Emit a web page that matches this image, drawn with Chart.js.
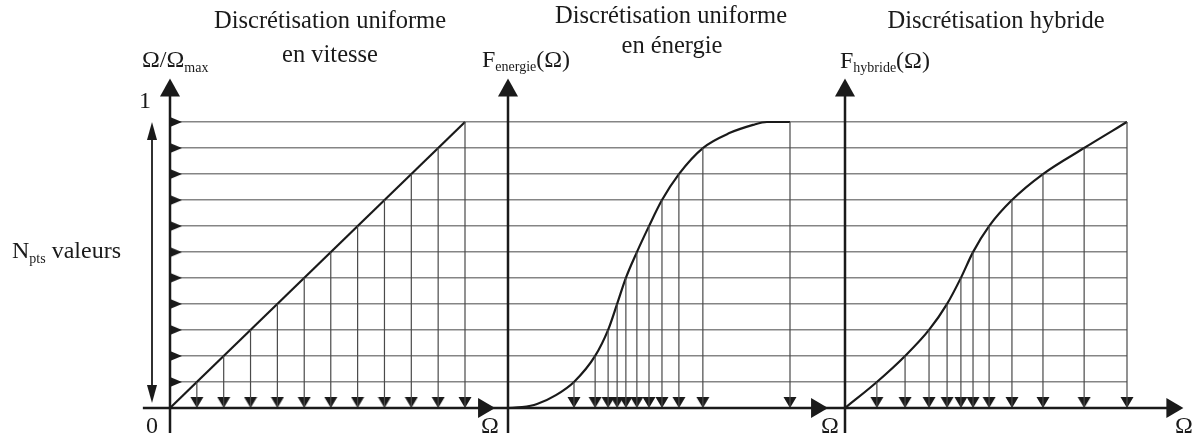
<!DOCTYPE html>
<html>
<head>
<meta charset="utf-8">
<script src="https://cdn.jsdelivr.net/npm/chart.js@4.4.1/dist/chart.umd.min.js"></script>
<style>
body { margin: 0; background: #fff; }
</style>
</head>
<body>
<canvas id="diagram" width="1203" height="441"></canvas>
<script>
// ordinate levels (N_pts = 11 values, 0 is the axis itself)
var levels = [0, 0.091, 0.182, 0.273, 0.364, 0.455, 0.545, 0.636, 0.727, 0.818, 0.909, 1.0];

// Omega of each discretisation point (one per level, normalised on each panel)
var vitesseX = [0.091, 0.182, 0.273, 0.364, 0.455, 0.545, 0.636, 0.727, 0.818, 0.909, 1.0];
var energieX = [0.234, 0.309, 0.355, 0.387, 0.418, 0.457, 0.500, 0.546, 0.606, 0.691, 1.0];
var hybrideX = [0.113, 0.213, 0.298, 0.362, 0.411, 0.454, 0.511, 0.592, 0.702, 0.848, 1.0];
var pointY   = [0.091, 0.182, 0.273, 0.364, 0.455, 0.545, 0.636, 0.727, 0.818, 0.909, 1.0];

// the three curves
var vitesseCurveX = [0, 1];
var vitesseCurveY = [0, 1];
var energieCurveX = [0, 0.05, 0.103, 0.17, 0.234, 0.309, 0.355, 0.387, 0.418, 0.457, 0.500, 0.546, 0.606, 0.691, 0.787, 0.869, 0.918, 1.0];
var energieCurveY = [0, 0.003, 0.014, 0.045, 0.091, 0.182, 0.273, 0.364, 0.455, 0.545, 0.636, 0.727, 0.818, 0.909, 0.962, 0.990, 1.0, 1.0];
var hybrideCurveX = [0, 0.113, 0.213, 0.298, 0.362, 0.411, 0.454, 0.511, 0.592, 0.702, 0.848, 1.0];
var hybrideCurveY = [0, 0.091, 0.182, 0.273, 0.364, 0.455, 0.545, 0.636, 0.727, 0.818, 0.909, 1.0];

// layout (px)
var PLOT = { left: 170, top: 122, right: 1127, bottom: 408 };
var PANEL_X = [[170, 465], [508, 790], [845, 1127]];   // pixel of Omega=0 and Omega=1 on each panel
var AXIS_X_START = -0.092;                             // on panel 1 scale
var AXIS_X_TIPS = [1.102, 1.135, 1.2];                 // arrow tips, each on its own panel scale
var AXIS_Y_TOP = 1.152, AXIS_Y_BOTTOM = -0.087;

var INK = '#1a1a1a';
var GRID = '#858585';
var DROP = '#4a4a4a';
var FONT = '"Liberation Serif", "DejaVu Serif", serif';

function headCanvas(w, h, pts) {
    var c = document.createElement('canvas');
    c.width = w; c.height = h;
    var g = c.getContext('2d');
    g.fillStyle = INK;
    g.beginPath();
    g.moveTo(pts[0], pts[1]);
    g.lineTo(pts[2], pts[3]);
    g.lineTo(pts[4], pts[5]);
    g.closePath();
    g.fill();
    return c;
}
// tip of the drop arrow sits at the centre of the image
var dropHead = headCanvas(14, 24, [0.5, 1, 13.5, 1, 7, 12]);
// level marker: base on the axis (centre), pointing right
var levelMark = headCanvas(28, 12, [14, 1, 26, 6, 14, 11]);

function xy(xs, ys) {
    return xs.map(function (x, i) { return { x: x, y: ys[i] }; });
}
function dropSegments(xs, ys) {
    var out = [];
    xs.forEach(function (x, i) {
        out.push({ x: x, y: ys[i] }, { x: x, y: 0 }, { x: x, y: null });
    });
    return out;
}
function panelScale(p) {
    var u = p[1] - p[0];
    return { type: 'linear', display: false, min: (PLOT.left - p[0]) / u, max: (PLOT.right - p[0]) / u };
}

var datasets = [];
var panels = [
    { axis: 'x1', cx: vitesseCurveX, cy: vitesseCurveY, px: vitesseX, mono: false },
    { axis: 'x2', cx: energieCurveX, cy: energieCurveY, px: energieX, mono: true },
    { axis: 'x3', cx: hybrideCurveX, cy: hybrideCurveY, px: hybrideX, mono: true }
];
panels.forEach(function (p) {
    datasets.push({
        xAxisID: p.axis,
        data: dropSegments(p.px, pointY),
        borderColor: DROP,
        borderWidth: 1.2,
        pointRadius: 0,
        spanGaps: false,
        clip: false
    });
    datasets.push({
        xAxisID: p.axis,
        data: xy(p.cx, p.cy),
        borderColor: INK,
        borderWidth: 2.2,
        pointRadius: 0,
        cubicInterpolationMode: p.mono ? 'monotone' : 'default',
        clip: false
    });
    datasets.push({
        xAxisID: p.axis,
        data: p.px.map(function (x) { return { x: x, y: 0 }; }),
        showLine: false,
        pointStyle: dropHead,
        pointRadius: 6,
        clip: false
    });
});
// markers of the N_pts levels on the first ordinate axis
datasets.push({
    xAxisID: 'x1',
    data: pointY.map(function (v) { return { x: 0, y: v }; }),
    showLine: false,
    pointStyle: levelMark,
    pointRadius: 6,
    clip: false
});

function richText(ctx, x, y, parts, align) {
    var w = 0;
    parts.forEach(function (p) { ctx.font = p[1] + 'px ' + FONT; w += ctx.measureText(p[0]).width; });
    var cx = align === 'center' ? x - w / 2 : x;
    parts.forEach(function (p) {
        ctx.font = p[1] + 'px ' + FONT;
        ctx.fillText(p[0], cx, y + (p[2] || 0));
        cx += ctx.measureText(p[0]).width;
    });
}
function head(ctx, x, y, dir, len, hw) {
    ctx.beginPath();
    if (dir === 'up') { ctx.moveTo(x, y); ctx.lineTo(x - hw, y + len); ctx.lineTo(x + hw, y + len); }
    if (dir === 'down') { ctx.moveTo(x, y); ctx.lineTo(x - hw, y - len); ctx.lineTo(x + hw, y - len); }
    if (dir === 'right') { ctx.moveTo(x, y); ctx.lineTo(x - len, y - hw); ctx.lineTo(x - len, y + hw); }
    ctx.closePath();
    ctx.fill();
}
function seg(ctx, x1, y1, x2, y2) {
    ctx.beginPath(); ctx.moveTo(x1, y1); ctx.lineTo(x2, y2); ctx.stroke();
}

var titles = [
    ['Discrétisation uniforme', 330, 28],
    ['en vitesse', 330, 62],
    ['Discrétisation uniforme', 671, 23],
    ['en énergie', 672, 53],
    ['Discrétisation hybride', 996, 28]
];

var decor = {
    id: 'decor',
    afterDatasetsDraw: function (chart) {
        var ctx = chart.ctx;
        var y = chart.scales.y;
        var xs = [chart.scales.x1, chart.scales.x2, chart.scales.x3];
        var y0 = y.getPixelForValue(0);
        var yTop = y.getPixelForValue(AXIS_Y_TOP);
        var yBot = y.getPixelForValue(AXIS_Y_BOTTOM);
        ctx.save();
        ctx.strokeStyle = INK;
        ctx.fillStyle = INK;
        ctx.lineWidth = 2.5;

        // Omega axis, shared by the three panels
        var tipR = xs[2].getPixelForValue(AXIS_X_TIPS[2]);
        seg(ctx, xs[0].getPixelForValue(AXIS_X_START), y0, tipR - 8, y0);
        AXIS_X_TIPS.forEach(function (v, i) {
            head(ctx, xs[i].getPixelForValue(v), y0, 'right', 17, 10);
        });
        // ordinate axes
        xs.forEach(function (s) {
            var px = s.getPixelForValue(0);
            seg(ctx, px, yBot, px, yTop + 8);
            head(ctx, px, yTop, 'up', 18, 10);
        });

        // N_pts double arrow
        var ax = xs[0].getPixelForValue(0) - 18;
        ctx.lineWidth = 1.8;
        seg(ctx, ax, y.getPixelForValue(1) + 10, ax, y0 - 14);
        head(ctx, ax, y.getPixelForValue(1), 'up', 18, 5);
        head(ctx, ax, y0 - 5, 'down', 18, 5);

        // texts
        ctx.textBaseline = 'alphabetic';
        titles.forEach(function (t) { richText(ctx, t[1], t[2], [[t[0], 24.5]], 'center'); });
        richText(ctx, 142, 67, [['Ω/Ω', 24], ['max', 14, 5]], 'left');
        richText(ctx, 482, 67, [['F', 24], ['energie', 14, 4], ['(Ω)', 24]], 'left');
        richText(ctx, 840, 68, [['F', 24], ['hybride', 14, 4], ['(Ω)', 24]], 'left');
        richText(ctx, 12, 258, [['N', 24], ['pts', 14, 5], [' valeurs', 24]], 'left');
        richText(ctx, 145, 108, [['1', 24]], 'center');
        richText(ctx, 152, 433, [['0', 24]], 'center');
        [490, 830, 1184].forEach(function (cx) { richText(ctx, cx, 433, [['Ω', 24]], 'center'); });
        ctx.restore();
    }
};

var chart = new Chart(document.getElementById('diagram'), {
    type: 'line',
    data: { datasets: datasets },
    options: {
        responsive: false,
        animation: false,
        events: [],
        layout: {
            padding: { left: PLOT.left, top: PLOT.top, right: 1203 - PLOT.right, bottom: 441 - PLOT.bottom }
        },
        plugins: {
            legend: { display: false },
            tooltip: { enabled: false }
        },
        scales: {
            x1: panelScale(PANEL_X[0]),
            x2: panelScale(PANEL_X[1]),
            x3: panelScale(PANEL_X[2]),
            y: {
                type: 'linear',
                position: 'left',
                min: 0,
                max: 1,
                afterBuildTicks: function (scale) {
                    scale.ticks = levels.map(function (v) { return { value: v }; });
                },
                ticks: { display: false },
                grid: { color: GRID, lineWidth: 1.4, drawTicks: false },
                border: { display: false }
            }
        }
    },
    plugins: [decor]
});
</script>
</body>
</html>
